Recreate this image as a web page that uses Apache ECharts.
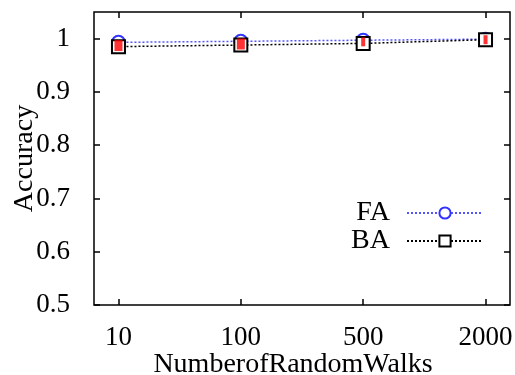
<!DOCTYPE html>
<html><head><meta charset="utf-8">
<script src="https://cdn.jsdelivr.net/npm/echarts@6/dist/echarts.min.js"></script>
<style>html,body{margin:0;padding:0;background:#fff}#c{width:515px;height:375px}</style>
</head><body><div id="c"></div>
<script>
var categories = ['10', '100', '500', '2000'];
var faValues = [0.993, 0.995, 0.997, 0.999];
var baValues = [0.985, 0.988, 0.991, 0.998];
var errValues = [0.987, 0.990, 0.994, 0.998];
var yTicks = [0.5, 0.6, 0.7, 0.8, 0.9, 1];

var idx = categories.map(function (c, i) { return i; });
function pts(vals) { return vals.map(function (v, i) { return [i, v]; }); }
var font = 'Liberation Serif';
var tick = { show: true, inside: true, length: 6, lineStyle: { color: '#000', width: 1.5 } };
var chart = echarts.init(document.getElementById('c'));
chart.setOption({
  animation: false,
  backgroundColor: '#fff',
  grid: { left: 94, right: 5, top: 12, bottom: 70, outerBoundsMode: 'none', containLabel: false,
    show: true, borderColor: '#000', borderWidth: 1.5, backgroundColor: 'transparent' },
  legend: {
    right: 31, top: 199, orient: 'vertical', align: 'right', itemGap: 0, padding: 0,
    itemWidth: 76, itemHeight: 14,
    textStyle: { fontFamily: font, fontSize: 28, color: '#000', lineHeight: 28, padding: [0, 12, 0, 0] },
    data: ['FA', 'BA']
  },
  xAxis: [{
    type: 'value', min: -0.2, max: 3.2, position: 'bottom',
    name: 'NumberofRandomWalks', nameLocation: 'middle', nameGap: 46, nameMoveOverlap: false,
    nameTextStyle: { fontFamily: font, fontSize: 28, color: '#000', padding: [0, 18, 0, 0] },
    axisLine: { show: false, onZero: false },
    splitLine: { show: false },
    axisTick: Object.assign({ customValues: idx }, tick),
    axisLabel: { customValues: idx, margin: 19, fontFamily: font, fontSize: 27, color: '#000',
      formatter: function (v) { return categories[Math.round(v)]; } }
  }, {
    type: 'value', min: -0.2, max: 3.2, position: 'top',
    axisLine: { show: false, onZero: false }, splitLine: { show: false },
    axisTick: Object.assign({ customValues: idx }, tick),
    axisLabel: { show: false, customValues: idx }
  }],
  yAxis: [{
    type: 'value', min: 0.5, max: 1.05, position: 'left',
    name: 'Accuracy', nameLocation: 'middle', nameGap: 55, nameMoveOverlap: false,
    nameTextStyle: { fontFamily: font, fontSize: 28, color: '#000' },
    axisLine: { show: false, onZero: false }, splitLine: { show: false },
    axisTick: Object.assign({ customValues: yTicks }, tick),
    axisLabel: { customValues: yTicks, margin: 24, fontFamily: font, fontSize: 27, color: '#000',
      formatter: function (v) { return String(v); } }
  }, {
    type: 'value', min: 0.5, max: 1.05, position: 'right',
    axisLine: { show: false, onZero: false }, splitLine: { show: false },
    axisTick: Object.assign({ customValues: yTicks }, tick),
    axisLabel: { show: false, customValues: yTicks }
  }],
  series: [{
    name: 'FA', type: 'line', data: pts(faValues), z: 3,
    symbol: 'emptyCircle', symbolSize: 13,
    itemStyle: { color: '#3333ff', borderWidth: 1.5 },
    lineStyle: { color: '#5555ff', width: 1.5, type: [2, 2] }
  }, {
    name: 'BA', type: 'line', data: pts(baValues), z: 4,
    symbol: 'emptyRect', symbolSize: 13,
    itemStyle: { color: '#000', borderWidth: 2 },
    lineStyle: { color: '#000', width: 1.5, type: [2, 2] }
  }, {
    name: 'err', type: 'scatter', data: pts(errValues), z: 5,
    symbol: 'rect', symbolSize: function (v, p) { return p.dataIndex < 2 ? [8, 11] : [4, 9]; },
    itemStyle: { color: '#ff0000' }
  }]
});
</script></body></html>
